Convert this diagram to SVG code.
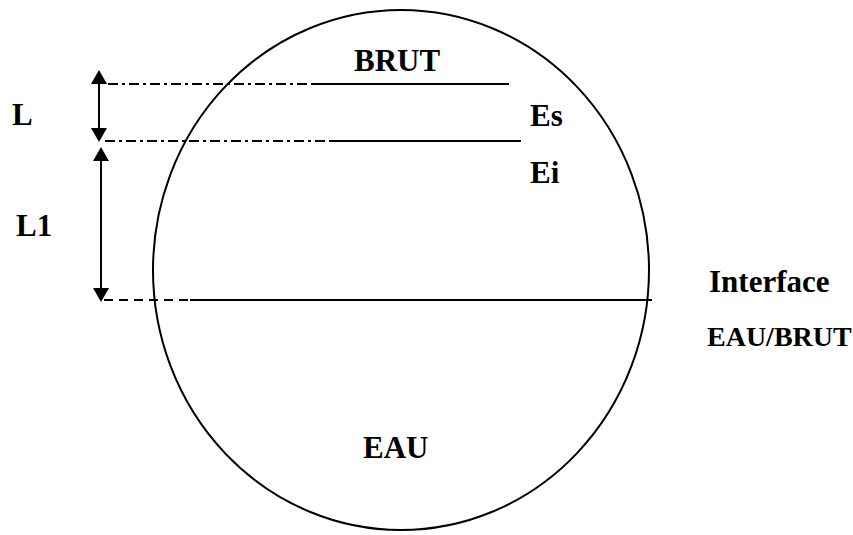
<svg xmlns="http://www.w3.org/2000/svg" width="853" height="535" viewBox="0 0 853 535">
<defs>
<marker id="ah" markerWidth="14" markerHeight="16" refX="12" refY="8" orient="auto-start-reverse" markerUnits="userSpaceOnUse">
<path d="M0,0 L14,8 L0,16 Z" fill="#000"/>
</marker>
<style>
.t{font-family:"Liberation Serif","Times New Roman",serif;font-weight:bold;font-size:31px;fill:#000}
.s{stroke:#000;stroke-width:2;fill:none}
.dd{stroke:#000;stroke-width:2;fill:none;stroke-dasharray:10,4,3,4}
.da{stroke:#000;stroke-width:2;fill:none;stroke-dasharray:9,6}
</style>
</defs>
<rect width="853" height="535" fill="#fff"/>
<g id="sphere">
<ellipse cx="401" cy="270" rx="248" ry="260" class="s"/>
</g>
<g id="connectors">
<line x1="108" y1="84" x2="312" y2="84" class="dd"/>
<line x1="312" y1="84" x2="509" y2="84" class="s"/>
<line x1="105" y1="141" x2="330" y2="141" class="dd"/>
<line x1="330" y1="141" x2="521" y2="141" class="s"/>
<line x1="104" y1="300" x2="190" y2="300" class="da"/>
<line x1="190" y1="300" x2="652" y2="300" class="s"/>
<line x1="99" y1="72" x2="99" y2="140" class="s" marker-start="url(#ah)" marker-end="url(#ah)"/>
<line x1="101" y1="149" x2="101" y2="300" class="s" marker-start="url(#ah)" marker-end="url(#ah)"/>
</g>
<g id="labels">
<text x="354" y="71" class="t">BRUT</text>
<text x="530" y="126" class="t">Es</text>
<text x="530" y="183" class="t">Ei</text>
<text x="12" y="125" class="t">L</text>
<text x="16" y="236" class="t">L1</text>
<text x="709" y="292" class="t">Interface</text>
<text x="707" y="346" class="t" style="font-size:28px">EAU/BRUT</text>
<text x="363" y="458" class="t">EAU</text>
</g>
</svg>
